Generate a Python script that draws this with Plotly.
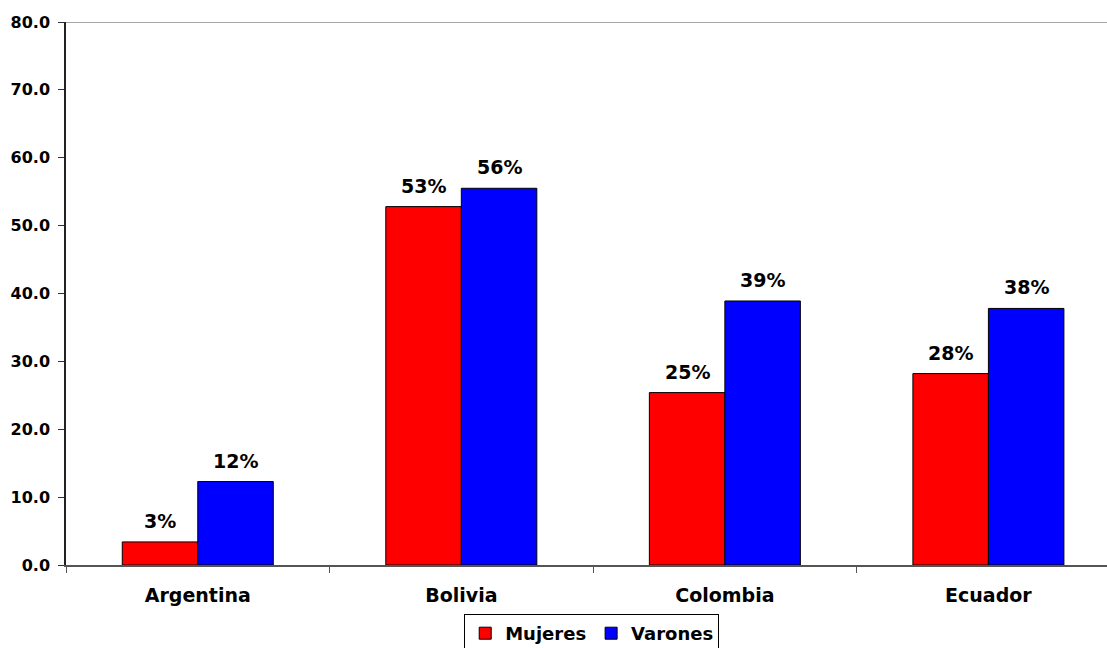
import plotly.graph_objects as go

paises = ["Argentina", "Bolivia", "Colombia", "Ecuador"]
mujeres = [3.4, 52.8, 25.4, 28.2]
varones = [12.3, 55.5, 38.9, 37.8]
y_ticks = [0, 10, 20, 30, 40, 50, 60, 70, 80]

FONT = "DejaVu Sans, Arial, sans-serif"
BAR_PX = 75.5  # width of one bar in pixels, used to centre each value label

series = [("Mujeres", mujeres, "#ff0000", -BAR_PX / 2),
          ("Varones", varones, "#0000ff", BAR_PX / 2)]

fig = go.Figure()
annotations = []
for nombre, valores, color, dx in series:
    fig.add_trace(go.Bar(
        x=paises, y=valores, name=nombre,
        marker=dict(color=color, line=dict(color="#000000", width=1)),
    ))
    for pais, v in zip(paises, valores):
        annotations.append(dict(
            x=pais, y=v, xref="x", yref="y", text=f"{v:.0f}%", showarrow=False,
            xanchor="center", yanchor="bottom", xshift=dx, yshift=8,
            font=dict(family=FONT, size=19, color="#000000", weight="bold"),
        ))

fig.update_layout(
    width=1107, height=648,
    margin=dict(l=66, r=0, t=22, b=83, autoexpand=False),
    plot_bgcolor="white", paper_bgcolor="white",
    barmode="group", bargap=0.427, bargroupgap=0,
    showlegend=True,
    legend=dict(
        orientation="h", x=0.505, xanchor="center",
        yref="container", y=(648 - 614) / 648, yanchor="top",
        bordercolor="#000000", borderwidth=1, bgcolor="white",
        font=dict(family=FONT, size=18, color="#000000", weight="bold"),
        itemwidth=30, tracegroupgap=0,
    ),
    xaxis=dict(
        range=[-0.5, 3.45], tickson="boundaries", ticks="outside", ticklen=6,
        tickcolor="#555555", showline=True, linecolor="#555555", linewidth=1.5,
        tickfont=dict(family=FONT, size=19, color="#000000", weight="bold"),
        ticklabelstandoff=12, showgrid=False, automargin=False,
    ),
    yaxis=dict(
        range=[0, 80], tickvals=y_ticks, tickformat=".1f",
        ticks="outside", ticklen=6, tickcolor="#333333",
        showline=True, linecolor="#222222", linewidth=1.5,
        tickfont=dict(family=FONT, size=16, color="#000000", weight="bold"),
        ticklabelstandoff=5, showgrid=False, zeroline=False, automargin=False,
    ),
    annotations=annotations,
    shapes=[dict(type="line", xref="paper", yref="y", x0=0, x1=1, y0=80, y1=80,
                 line=dict(color="#888888", width=1.5))],
)

fig.write_html("out.html")
